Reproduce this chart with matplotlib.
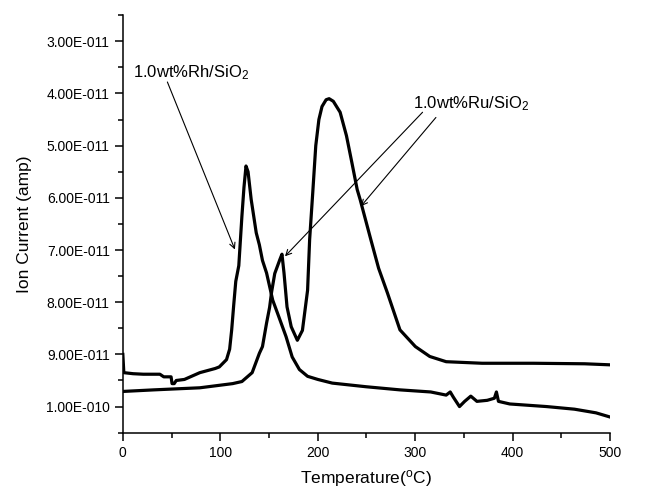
import numpy as np
import matplotlib
matplotlib.use("Agg")
import matplotlib.pyplot as plt
from matplotlib.ticker import MultipleLocator, FixedLocator, FixedFormatter

plt.rcParams['font.family'] = ['Liberation Sans', 'DejaVu Sans']
plt.rcParams['mathtext.fontset'] = 'custom'
plt.rcParams['mathtext.rm'] = 'Liberation Sans'
plt.rcParams['mathtext.it'] = 'Liberation Sans'
plt.rcParams['mathtext.default'] = 'regular'

# Rh/SiO2 curve (temperature in C, ion current in units of 1e-11 A)
rh_temp = [0, 1, 10.5, 21, 38, 42, 49.5, 50.5, 52.7, 54.8, 63.2, 79, 94.8, 99, 106.4,
           109.6, 111.7, 113.8, 115.9, 119, 122.2, 124.3, 126.4, 128.5, 131.7, 136.9,
           140.1, 143.3, 147.5, 153.8, 160.1, 167.5, 173.8, 181.2, 189.6, 200.1, 214.9,
           249.7, 284.4, 316, 331.8, 336, 339.2, 345.5, 350.8, 357.1, 363.4, 374, 381.3,
           383.4, 385.5, 397.1, 435, 463.5, 485.6, 500]
rh_curr = [9.0, 9.35, 9.37, 9.38, 9.38, 9.43, 9.43, 9.56, 9.56, 9.5, 9.48, 9.35, 9.27,
           9.24, 9.1, 8.9, 8.53, 8.05, 7.6, 7.3, 6.35, 5.8, 5.39, 5.5, 6.03, 6.67, 6.9,
           7.2, 7.44, 7.96, 8.28, 8.66, 9.05, 9.29, 9.42, 9.48, 9.55, 9.62, 9.68, 9.72,
           9.78, 9.72, 9.82, 10.0, 9.9, 9.8, 9.9, 9.88, 9.84, 9.72, 9.9, 9.95, 10.0,
           10.05, 10.12, 10.2]

# Ru/SiO2 curve
ru_temp = [0, 31.6, 79, 112.7, 122.2, 132.7, 140.1, 143.3, 147.5, 150.6, 152.7, 155.9,
           161.2, 163.3, 165.4, 168.5, 172.8, 179.1, 184.3, 189.6, 191.7, 194.9, 198,
           201.2, 204.4, 208.6, 211.7, 216, 223, 229.5, 235, 240.5, 243.5, 249.5,
           254.5, 262.5, 271.5, 284.4, 300.2, 315, 331.8, 368.7, 421.4, 474, 500]
ru_curr = [9.71, 9.68, 9.64, 9.56, 9.52, 9.35, 8.98, 8.85, 8.4, 8.1, 7.8, 7.45, 7.18,
           7.08, 7.44, 8.09, 8.47, 8.73, 8.54, 7.77, 6.8, 5.9, 5.0, 4.5, 4.25, 4.12,
           4.1, 4.15, 4.36, 4.81, 5.32, 5.84, 6.03, 6.45, 6.8, 7.35, 7.82, 8.53, 8.85,
           9.04, 9.14, 9.17, 9.17, 9.18, 9.2]

yticks = [3e-11, 4e-11, 5e-11, 6e-11, 7e-11, 8e-11, 9e-11, 1e-10]
ytick_labels = ['3.00E-011', '4.00E-011', '5.00E-011', '6.00E-011',
                '7.00E-011', '8.00E-011', '9.00E-011', '1.00E-010']
xticks = [0, 100, 200, 300, 400, 500]

fig = plt.figure(figsize=(6.5, 4.9), dpi=100)
ax = fig.add_axes([0.189, 0.117, 0.7495, 0.852])

scale = 1e-11
ax.plot(rh_temp, np.array(rh_curr) * scale, color='black', lw=2.3)
ax.plot(ru_temp, np.array(ru_curr) * scale, color='black', lw=2.3)

ax.set_xlim(0, 500)
ax.set_ylim(1.05e-10, 2.5e-11)

ax.xaxis.set_major_locator(FixedLocator(xticks))
ax.xaxis.set_minor_locator(MultipleLocator(50))
ax.yaxis.set_major_locator(FixedLocator(yticks))
ax.yaxis.set_major_formatter(FixedFormatter(ytick_labels))
ax.yaxis.set_minor_locator(MultipleLocator(0.5e-11))

for s in ['top', 'right']:
    ax.spines[s].set_visible(False)
for s in ['left', 'bottom']:
    ax.spines[s].set_linewidth(1.1)
ax.tick_params(which='major', direction='out', length=6, width=1.1, labelsize=10)
ax.tick_params(which='minor', direction='out', length=3.5, width=1.1)

ax.set_xlabel('Temperature($^{o}$C)', fontsize=12.5, labelpad=6)
ax.set_ylabel('Ion Current (amp)', fontsize=12.5, labelpad=10)

arrow = dict(arrowstyle='->', lw=0.8, color='black', shrinkA=0, shrinkB=0)
ax.text(10, 3.6e-11, '1.0wt%Rh/SiO$_2$', fontsize=12, va='center', ha='left')
ax.annotate('', xy=(115, 6.99e-11), xytext=(45.7, 3.78e-11), arrowprops=arrow)

ax.text(298, 4.2e-11, '1.0wt%Ru/SiO$_2$', fontsize=12, va='center', ha='left')
ax.annotate('', xy=(166.4, 7.12e-11), xytext=(307.6, 4.36e-11), arrowprops=arrow)
ax.annotate('', xy=(244.4, 6.16e-11), xytext=(321.3, 4.46e-11), arrowprops=arrow)

fig.savefig('out.png', dpi=100)
